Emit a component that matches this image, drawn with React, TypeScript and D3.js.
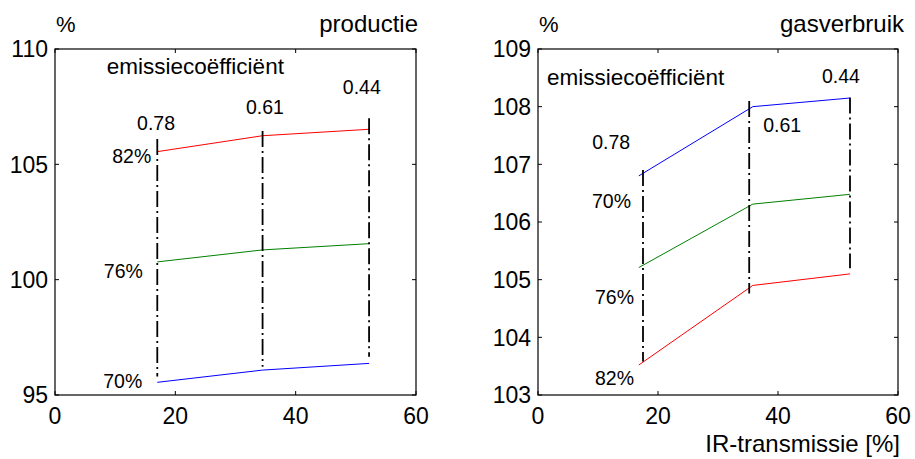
import React from "react";
import * as d3 from "d3";

// Shared x axis (IR-transmissie, %)
const xTicks = [0, 20, 40, 60];
const emissionLabels = ["0.78", "0.61", "0.44"];
const seriesNames = ["82%", "76%", "70%"];

// Production panel
const prodYTicks = [95, 100, 105, 110];
const prodX = [17, 34.5, 52.2];
const prod82 = [105.55, 106.24, 106.52];
const prod76 = [100.77, 101.29, 101.56];
const prod70 = [95.55, 96.08, 96.37];
const prodGuideTop = [106.1, 106.45, 107.0];
const prodGuideBottom = [95.8, 96.23, 96.66];

// Gas consumption panel
const gasYTicks = [103, 104, 105, 106, 107, 108, 109];
const gasLineX = [16.8, 35.8, 52];
const gasGuideX = [17.5, 35.2, 52];
const gas82 = [103.52, 104.9, 105.1];
const gas76 = [105.21, 106.31, 106.48];
const gas70 = [106.8, 108.0, 108.15];
const gasGuideTop = [106.9, 108.1, 108.16];
const gasGuideBottom = [103.58, 104.76, 105.2];

const FONT = "'Liberation Sans', Arial, sans-serif";
const COLORS: Record<string, string> = { "82%": "#ff0000", "76%": "#008000", "70%": "#0000ff" };

type Lbl = { text: string; x: number; y: number; anchor: "start" | "middle" | "end"; size?: number };

type PanelCfg = {
  left: number;
  right: number;
  top: number;
  bottom: number;
  yDomain: [number, number];
  yTicks: number[];
  title: string;
  titleX: number;
  lineX: number[];
  guideX: number[];
  series: { name: string; values: number[] }[];
  guideTop: number[];
  guideBottom: number[];
  labels: Lbl[];
  xTitle?: string;
};

const panels: PanelCfg[] = [
  {
    left: 55,
    right: 416,
    top: 49,
    bottom: 395,
    yDomain: [95, 110],
    yTicks: prodYTicks,
    title: "productie",
    titleX: 418,
    lineX: prodX,
    guideX: prodX,
    series: [
      { name: seriesNames[0], values: prod82 },
      { name: seriesNames[1], values: prod76 },
      { name: seriesNames[2], values: prod70 },
    ],
    guideTop: prodGuideTop,
    guideBottom: prodGuideBottom,
    labels: [
      { text: "emissiecoëfficiënt", x: 8.6, y: 108.9, anchor: "start", size: 22.5 },
      { text: emissionLabels[0], x: 16.8, y: 106.49, anchor: "middle" },
      { text: emissionLabels[1], x: 34.9, y: 107.18, anchor: "middle" },
      { text: emissionLabels[2], x: 51.0, y: 108.05, anchor: "middle" },
      { text: seriesNames[0], x: 16.0, y: 105.06, anchor: "end" },
      { text: seriesNames[1], x: 14.6, y: 100.07, anchor: "end" },
      { text: seriesNames[2], x: 14.5, y: 95.3, anchor: "end" },
    ],
  },
  {
    left: 538,
    right: 898,
    top: 49,
    bottom: 395,
    yDomain: [103, 109],
    yTicks: gasYTicks,
    title: "gasverbruik",
    titleX: 904,
    lineX: gasLineX,
    guideX: gasGuideX,
    series: [
      { name: seriesNames[0], values: gas82 },
      { name: seriesNames[1], values: gas76 },
      { name: seriesNames[2], values: gas70 },
    ],
    guideTop: gasGuideTop,
    guideBottom: gasGuideBottom,
    labels: [
      { text: "emissiecoëfficiënt", x: 1.5, y: 108.37, anchor: "start", size: 22.5 },
      { text: emissionLabels[0], x: 12.2, y: 107.27, anchor: "middle" },
      { text: emissionLabels[1], x: 40.7, y: 107.56, anchor: "middle" },
      { text: emissionLabels[2], x: 50.5, y: 108.41, anchor: "middle" },
      { text: seriesNames[2], x: 15.5, y: 106.24, anchor: "end" },
      { text: seriesNames[1], x: 16.0, y: 104.58, anchor: "end" },
      { text: seriesNames[0], x: 16.0, y: 103.17, anchor: "end" },
    ],
    xTitle: "IR-transmissie [%]",
  },
];

function Panel({ cfg }: { cfg: PanelCfg }) {
  const x = d3.scaleLinear().domain([0, 60]).range([cfg.left, cfg.right]);
  const y = d3.scaleLinear().domain(cfg.yDomain).range([cfg.bottom, cfg.top]);
  const tickLen = 4;
  const line = d3
    .line<number>()
    .x((_, i) => x(cfg.lineX[i]))
    .y((d) => y(d));

  return (
    <g>
      {/* data lines */}
      {cfg.series.map((s) => (
        <path key={s.name} d={line(s.values) || ""} fill="none" stroke={COLORS[s.name]} strokeWidth={1} />
      ))}
      {/* dash-dot guides for each emission coefficient */}
      {cfg.guideX.map((gx, i) => (
        <line
          key={"g" + i}
          x1={x(gx)}
          x2={x(gx)}
          y1={y(cfg.guideTop[i])}
          y2={y(cfg.guideBottom[i])}
          stroke="#000"
          strokeWidth={1.8}
          strokeDasharray="16,4,2,4"
        />
      ))}
      {/* frame */}
      <rect
        x={cfg.left}
        y={cfg.top}
        width={cfg.right - cfg.left}
        height={cfg.bottom - cfg.top}
        fill="none"
        stroke="#000"
        strokeWidth={1.2}
      />
      {/* x ticks */}
      {xTicks.map((t) => (
        <g key={"x" + t}>
          <line x1={x(t)} x2={x(t)} y1={cfg.bottom} y2={cfg.bottom - tickLen} stroke="#000" />
          <line x1={x(t)} x2={x(t)} y1={cfg.top} y2={cfg.top + tickLen} stroke="#000" />
          <text x={x(t)} y={cfg.bottom + 29} textAnchor="middle" fontSize={23} fontFamily={FONT}>
            {t}
          </text>
        </g>
      ))}
      {/* y ticks */}
      {cfg.yTicks.map((t) => (
        <g key={"y" + t}>
          <line x1={cfg.left} x2={cfg.left + tickLen} y1={y(t)} y2={y(t)} stroke="#000" />
          <line x1={cfg.right} x2={cfg.right - tickLen} y1={y(t)} y2={y(t)} stroke="#000" />
          <text
            x={cfg.left - 7}
            y={y(t)}
            dy="0.36em"
            textAnchor="end"
            fontSize={23}
            fontFamily={FONT}
          >
            {t}
          </text>
        </g>
      ))}
      {/* headers */}
      <text x={cfg.left + 1} y={32} fontSize={22} fontFamily={FONT}>
        %
      </text>
      <text x={cfg.titleX} y={32} textAnchor="end" fontSize={24} fontFamily={FONT}>
        {cfg.title}
      </text>
      {cfg.xTitle && (
        <text x={cfg.right + 2} y={452} textAnchor="end" fontSize={24} fontFamily={FONT}>
          {cfg.xTitle}
        </text>
      )}
      {/* annotations */}
      {cfg.labels.map((l, i) => (
        <text
          key={"l" + i}
          x={x(l.x)}
          y={y(l.y)}
          textAnchor={l.anchor}
          fontSize={l.size ?? 19.5}
          fontFamily={FONT}
        >
          {l.text}
        </text>
      ))}
    </g>
  );
}

export default function App() {
  return (
    <svg
      width={915}
      height={459}
      style={{ position: "absolute", left: 0, top: 0, background: "#fff" }}
    >
      <rect width={915} height={459} fill="#fff" />
      {panels.map((p) => (
        <Panel key={p.title} cfg={p} />
      ))}
    </svg>
  );
}
